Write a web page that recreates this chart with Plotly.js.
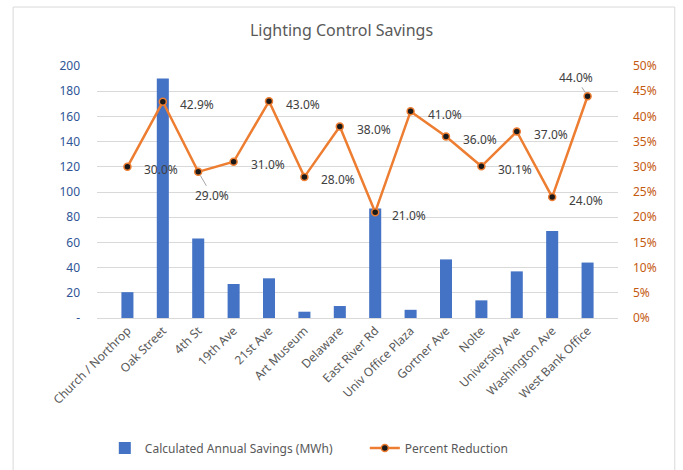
<!DOCTYPE html>
<html>
<head>
<meta charset="utf-8">
<script src="https://cdn.plot.ly/plotly-3.0.1.min.js"></script>
<style>body{margin:0;background:#fff}#chart{width:683px;height:470px}</style>
</head>
<body>
<div id="chart"></div>
<script>
var categories = ["Church / Northrop","Oak Street","4th St","19th Ave","21st Ave","Art Museum","Delaware","East River Rd","Univ Office Plaza","Gortner Ave","Nolte","University Ave","Washington Ave","West Bank Office"];
var savingsMWh = [20.5, 190, 63, 27, 31.5, 5, 9.5, 87, 6.5, 46.5, 14, 37, 69, 44];
var percentReduction = [0.300, 0.429, 0.290, 0.310, 0.430, 0.280, 0.380, 0.210, 0.410, 0.360, 0.301, 0.370, 0.240, 0.440];
var leftTickVals = [0,20,40,60,80,100,120,140,160,180,200];
var leftTickText = ["-","20","40","60","80","100","120","140","160","180","200"];
var labelPlacement = ["right","right","below","right","right","right","right","right","right","right","right","right","right","above"];

var FONT = "Noto Sans, Open Sans, sans-serif";
var bars = {
  type: "bar", name: "Calculated Annual Savings (MWh)",
  x: categories, y: savingsMWh,
  marker: {color: "#4472C4"},
  hoverinfo: "skip"
};
var line = {
  type: "scatter", mode: "lines+markers", name: "Percent Reduction",
  x: categories, y: percentReduction, yaxis: "y2",
  line: {color: "#ED7D31", width: 2.5},
  marker: {color: "#1a1a1a", size: 7, line: {color: "#ED7D31", width: 1.5}},
  hoverinfo: "skip"
};
var annotations = categories.map(function (c, i) {
  var txt = (percentReduction[i] * 100).toFixed(1) + "%";
  var base = {x: c, y: percentReduction[i], xref: "x", yref: "y2", text: txt,
    font: {family: FONT, size: 12, color: "#404040"}};
  if (labelPlacement[i] === "right") {
    base.showarrow = false; base.xanchor = "left"; base.yanchor = "middle";
    base.xshift = 15; base.yshift = -3;
  } else {
    base.showarrow = true; base.arrowhead = 0; base.arrowwidth = 1; base.arrowcolor = "#a6a6a6";
    base.standoff = 4;
    if (labelPlacement[i] === "below") { base.ax = 14; base.ay = 24; }
    else { base.ax = -12; base.ay = -19; }
  }
  return base;
});
var layout = {
  width: 683, height: 470,
  margin: {l: 97, r: 65, t: 66, b: 152, autoexpand: false},
  paper_bgcolor: "#fff", plot_bgcolor: "#fff",
  font: {family: FONT, size: 12, color: "#595959"},
  title: {text: "Lighting Control Savings", x: 0.5, xref: "container", y: 0.936, yref: "container", yanchor: "middle", font: {family: FONT, size: 16, color: "#595959"}},
  bargap: 0.66,
  showlegend: true,
  legend: {orientation: "h", x: 0.015, xanchor: "left", y: -0.516, yanchor: "middle", entrywidth: 215, bgcolor: "rgba(0,0,0,0)", font: {family: FONT, size: 12, color: "#595959"}},
  xaxis: {type: "category", tickangle: -45, tickfont: {family: FONT, size: 12, color: "#595959"}, showgrid: false, showline: true, linecolor: "#d9d9d9", ticks: ""},
  yaxis: {range: [0, 200], tickvals: leftTickVals, ticktext: leftTickText, tickfont: {family: FONT, size: 12, color: "#2F5597"}, gridcolor: "#d9d9d9", zeroline: false, ticks: "", ticklabelstandoff: 16, fixedrange: true},
  yaxis2: {range: [0, 0.5], dtick: 0.05, tickformat: ".0%", overlaying: "y", side: "right", showgrid: false, zeroline: false, tickfont: {family: FONT, size: 12, color: "#C55A11"}, ticks: "", ticklabelstandoff: 14},
  annotations: annotations,
  shapes: [{type: "rect", xref: "paper", yref: "paper", x0: -0.161, x1: 1.109, y0: -0.68, y1: 1.234, line: {color: "#d9d9d9", width: 1}, layer: "below"}]
};
Plotly.newPlot("chart", [bars, line], layout, {displayModeBar: false, staticPlot: true});
</script>
</body>
</html>
